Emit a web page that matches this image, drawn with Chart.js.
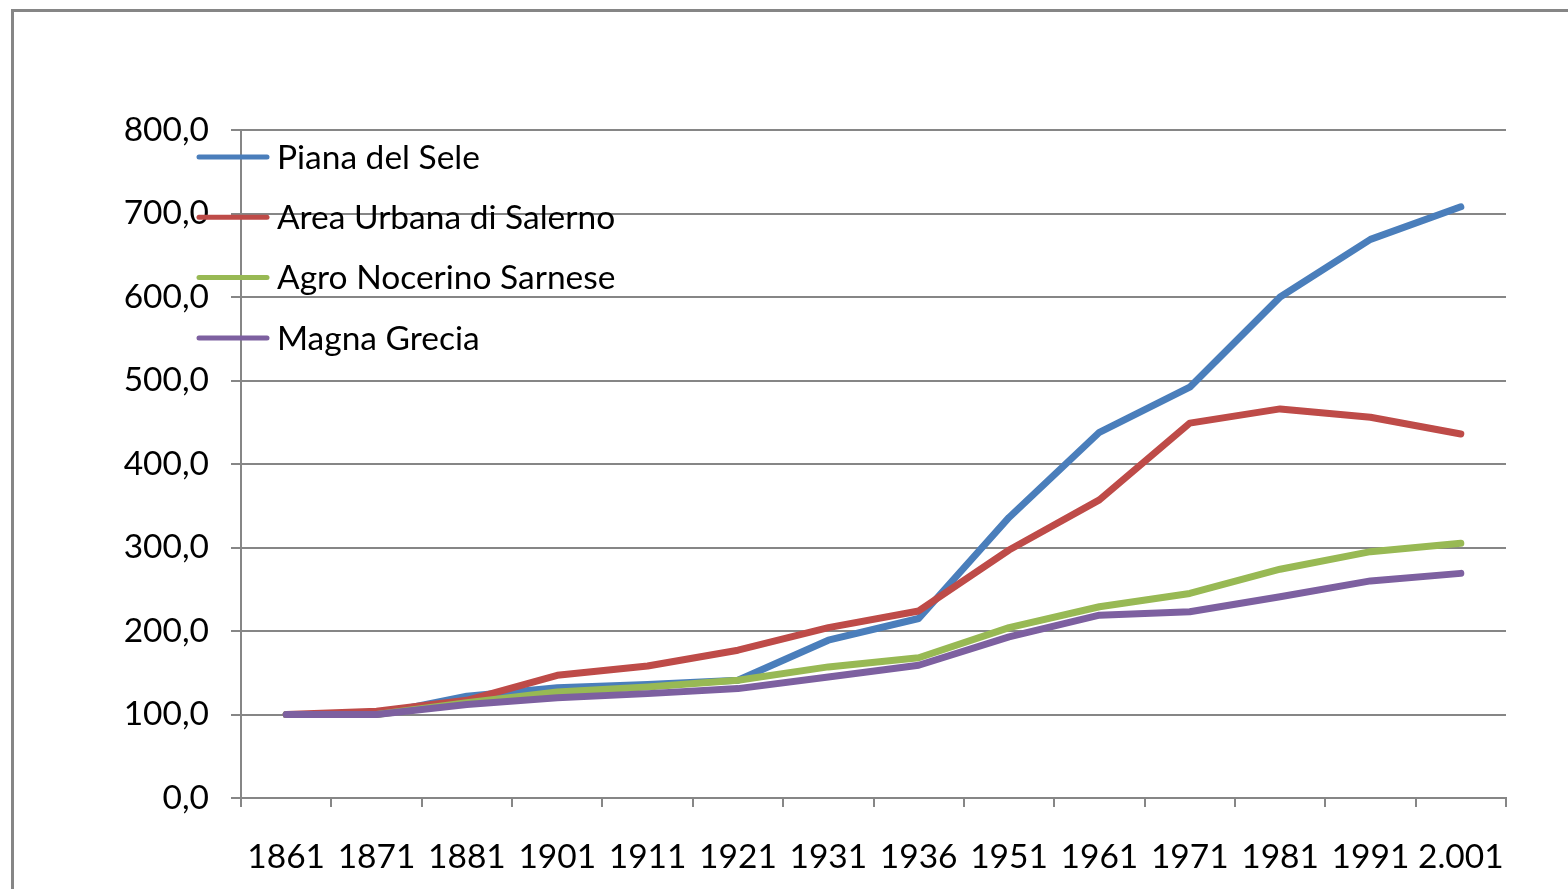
<!DOCTYPE html>
<html><head><meta charset="utf-8">
<script src="https://cdn.jsdelivr.net/npm/chart.js@4.4.1/dist/chart.umd.min.js"></script>
<style>html,body{margin:0;padding:0;background:#fff;}#wrap{width:1568px;height:889px;position:relative;}</style>
</head><body><div id="wrap"><canvas id="c" width="1568" height="889"></canvas></div>
<script>
const categories = ['1861','1871','1881','1901','1911','1921','1931','1936','1951','1961','1971','1981','1991','2.001'];
const seriesNames = ['Piana del Sele','Area Urbana di Salerno','Agro Nocerino Sarnese','Magna Grecia'];
const pianaDelSele = [100,100,122,132,136,141,189,215,336,438,492,600,669,708];
const areaUrbanaSalerno = [100,104,117,147,158,177,204,224,297,357,449,466,456,436];
const agroNocerinoSarnese = [100,100,114,127,133,141,157,168,204,229,245,274,295,305];
const magnaGrecia = [100,100,112,120,125,131,145,159,193,219,223,241,260,269];
const yTicks = [0,100,200,300,400,500,600,700,800];
const colors = ['#4A7EBB','#BE4B48','#98B954','#7D60A0'];
const FONT = 'Lato, "Liberation Sans", sans-serif';
const FSIZE = 33.5;

const allSeries = [pianaDelSele, areaUrbanaSalerno, agroNocerinoSarnese, magnaGrecia];

const framePlugin = {
  id: 'frame',
  beforeDraw(chart) {
    const ctx = chart.ctx;
    ctx.save();
    ctx.fillStyle = '#fff';
    ctx.fillRect(0,0,chart.width,chart.height);
    ctx.strokeStyle = '#868686';
    ctx.lineWidth = 3;
    ctx.strokeRect(12.5, 10.5, 3000, 3000);
    ctx.restore();
  }
};

const legendPlugin = {
  id: 'insideLegend',
  afterDraw(chart) {
    const ctx = chart.ctx;
    ctx.save();
    chart.data.datasets.forEach((ds, i) => {
      const y = 157 + i * 60.3;
      ctx.strokeStyle = ds.borderColor;
      ctx.lineWidth = 5;
      ctx.lineCap = 'round';
      ctx.beginPath();
      ctx.moveTo(199, y);
      ctx.lineTo(267, y);
      ctx.stroke();
      ctx.fillStyle = '#000';
      ctx.font = FSIZE + 'px ' + FONT;
      ctx.textBaseline = 'middle';
      ctx.fillText(ds.label, 277, y + 1);
    });
    ctx.restore();
  }
};

new Chart(document.getElementById('c'), {
  type: 'line',
  data: {
    labels: categories,
    datasets: seriesNames.map((name, i) => ({
      label: name,
      data: allSeries[i],
      borderColor: colors[i],
      backgroundColor: colors[i],
      borderWidth: 7,
      borderCapStyle: 'round',
      borderJoinStyle: 'round',
      pointRadius: 0,
      tension: 0,
      fill: false,
      order: 4 - i
    }))
  },
  options: {
    responsive: false,
    animation: false,
    layout: { padding: { top: 130, right: 62, left: 0, bottom: 0 } },
    plugins: { legend: { display: false }, tooltip: { enabled: false } },
    scales: {
      x: {
        offset: true,
        grid: { offset: true, drawOnChartArea: false, drawTicks: true, tickLength: 9, color: '#868686', lineWidth: 2 },
        border: { color: '#868686', width: 2 },
        ticks: { color: '#000', font: { family: FONT, size: FSIZE }, padding: 30, maxRotation: 0, autoSkip: false },
        afterFit(scale) { scale.height = 91; }
      },
      y: {
        min: 0, max: 800,
        afterBuildTicks(scale) { scale.ticks = yTicks.map(v => ({ value: v })); },
        grid: { color: '#868686', lineWidth: 2, tickLength: 10 },
        border: { color: '#868686', width: 2 },
        ticks: { color: '#000', font: { family: FONT, size: FSIZE }, padding: 22,
          callback: v => v.toFixed(1).replace('.', ',') },
        afterFit(scale) { scale.width = 241; }
      }
    }
  },
  plugins: [framePlugin, legendPlugin]
});
</script></body></html>
